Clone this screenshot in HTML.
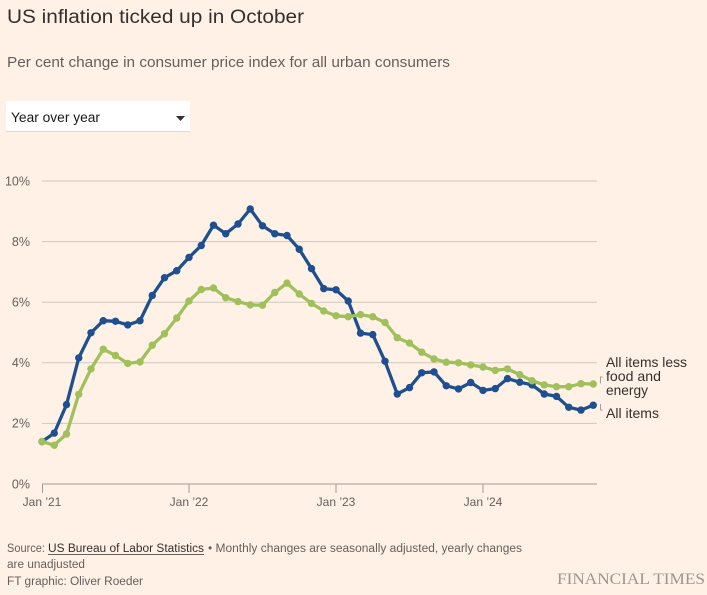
<!DOCTYPE html>
<html>
<head>
<meta charset="utf-8">
<style>
  html,body{margin:0;padding:0;background:#fff1e5;}
  svg{display:block;}
  text{font-family:"Liberation Sans",sans-serif;}
</style>
</head>
<body>
<svg width="707" height="595" viewBox="0 0 707 595" xmlns="http://www.w3.org/2000/svg">
  <defs>
    <marker id="mb" markerUnits="userSpaceOnUse" viewBox="-5 -5 10 10" markerWidth="10" markerHeight="10" refX="0" refY="0">
      <circle r="3.7" fill="#1e4f8f"/>
    </marker>
    <marker id="mg" markerUnits="userSpaceOnUse" viewBox="-5 -5 10 10" markerWidth="10" markerHeight="10" refX="0" refY="0">
      <circle r="3.7" fill="#9fc05a"/>
    </marker>
  </defs>
  <rect width="707" height="595" fill="#fff1e5"/>

  <!-- Title & subtitle -->
  <text x="7" y="23" font-size="19" fill="#33302e" textLength="297" lengthAdjust="spacingAndGlyphs">US inflation ticked up in October</text>
  <text x="7" y="67" font-size="15" fill="#66605c" textLength="443" lengthAdjust="spacingAndGlyphs">Per cent change in consumer price index for all urban consumers</text>

  <!-- Dropdown -->
  <rect x="6" y="101" width="184" height="31" fill="#ffffff"/>
  <line x1="6" y1="131.5" x2="190" y2="131.5" stroke="#e0d8d0" stroke-width="1"/>
  <text x="11" y="122" font-size="13.5" fill="#1a1817" textLength="89" lengthAdjust="spacingAndGlyphs">Year over year</text>
  <polygon points="176,116 185,116 180.5,121" fill="#33302e"/>

  <!-- Gridlines -->
  <g stroke="#d2c7bd" stroke-width="1">
    <line x1="42" y1="181" x2="597" y2="181"/>
    <line x1="42" y1="241.6" x2="597" y2="241.6"/>
    <line x1="42" y1="302.2" x2="597" y2="302.2"/>
    <line x1="42" y1="362.8" x2="597" y2="362.8"/>
    <line x1="42" y1="423.4" x2="597" y2="423.4"/>
  </g>
  <!-- Axis -->
  <g stroke="#a39b94" stroke-width="1">
    <line x1="42" y1="484" x2="597" y2="484"/>
    <line x1="42.5" y1="484" x2="42.5" y2="493"/>
    <line x1="189" y1="484" x2="189" y2="493"/>
    <line x1="336" y1="484" x2="336" y2="493"/>
    <line x1="483" y1="484" x2="483" y2="493"/>
  </g>

  <!-- Y labels -->
  <g font-size="12.5" fill="#66605c" text-anchor="end">
    <text x="30" y="185.5">10%</text>
    <text x="30" y="246">8%</text>
    <text x="30" y="306.5">6%</text>
    <text x="30" y="367">4%</text>
    <text x="30" y="427.5">2%</text>
    <text x="30" y="488.5">0%</text>
  </g>
  <!-- X labels -->
  <g font-size="12" fill="#66605c" text-anchor="middle">
    <text x="42" y="506">Jan ’21</text>
    <text x="189" y="506">Jan ’22</text>
    <text x="336" y="506">Jan ’23</text>
    <text x="483" y="506">Jan ’24</text>
  </g>

  <!-- All items (blue) -->
  <polyline fill="none" stroke="#1e4f8f" stroke-width="3.3" stroke-linejoin="round" stroke-linecap="round"
    marker-start="url(#mb)" marker-mid="url(#mb)" marker-end="url(#mb)"
    points="42,441.6 54.25,433.1 66.5,404.6 78.75,357.9 91,332.8 103.25,320.7 115.5,321.3 127.75,324.9 140,320.7 152.25,295.5 164.5,277.7 176.75,270.7 189,257.4 201.25,245.5 213.5,225.2 225.75,233.7 238,224.0 250.25,209.0 262.5,225.8 274.75,233.7 287,235.5 299.25,249.2 311.5,268.6 323.75,288.6 336,289.8 348.25,301.0 360.5,333.1 372.75,334.6 385,361.3 397.25,394.0 409.5,387.6 421.75,372.8 434,371.9 446.25,385.8 458.5,388.9 470.75,382.5 483,390.4 495.25,388.6 507.5,378.6 519.75,382.2 532,384.9 544.25,394.0 556.5,396.4 568.75,407.3 581,410.1 593.25,405.2"/>

  <!-- Core (green) -->
  <polyline fill="none" stroke="#9fc05a" stroke-width="3.3" stroke-linejoin="round" stroke-linecap="round"
    marker-start="url(#mg)" marker-mid="url(#mg)" marker-end="url(#mg)"
    points="42,441.6 54.25,445.2 66.5,434.0 78.75,394.3 91,368.9 103.25,349.2 115.5,355.5 127.75,363.4 140,361.9 152.25,345.2 164.5,333.7 176.75,318.0 189,301.0 201.25,289.5 213.5,288.0 225.75,297.7 238,301.6 250.25,304.9 262.5,305.2 274.75,292.5 287,283.1 299.25,294.0 311.5,303.4 323.75,311.0 336,315.8 348.25,316.7 360.5,314.6 372.75,316.7 385,322.5 397.25,337.7 409.5,343.1 421.75,352.2 434,358.9 446.25,362.2 458.5,362.8 470.75,364.9 483,367.0 495.25,370.4 507.5,368.9 519.75,374.6 532,380.7 544.25,384.9 556.5,386.7 568.75,386.7 581,383.7 593.25,384.0"/>

  <!-- Leaders -->
  <g stroke="#a8a09a" stroke-width="1" fill="none">
    <path d="M602.5,377 L600.5,377 L600.5,383.5"/>
    <path d="M600.5,404 L600.5,410 L602.5,410"/>
  </g>

  <!-- Series labels -->
  <g font-size="14" fill="#33302e">
    <text x="606" y="367" textLength="81" lengthAdjust="spacingAndGlyphs">All items less</text>
    <text x="606" y="381" textLength="55" lengthAdjust="spacingAndGlyphs">food and</text>
    <text x="606" y="395" textLength="42" lengthAdjust="spacingAndGlyphs">energy</text>
    <text x="606" y="418" textLength="53" lengthAdjust="spacingAndGlyphs">All items</text>
  </g>

  <!-- Footer -->
  <g font-size="11.5" fill="#66605c">
    <text x="7" y="552" textLength="38" lengthAdjust="spacingAndGlyphs">Source:</text>
    <text x="48" y="552" fill="#33302e" textLength="156" lengthAdjust="spacingAndGlyphs">US Bureau of Labor Statistics</text>
    <text x="208" y="552" textLength="314" lengthAdjust="spacingAndGlyphs">• Monthly changes are seasonally adjusted, yearly changes</text>
    <text x="7" y="568" textLength="78" lengthAdjust="spacingAndGlyphs">are unadjusted</text>
    <text x="7" y="585" textLength="136" lengthAdjust="spacingAndGlyphs">FT graphic: Oliver Roeder</text>
  </g>
  <line x1="48" y1="554.5" x2="204" y2="554.5" stroke="#33302e" stroke-width="0.8"/>

  <text x="557" y="584" font-size="16" fill="#9d958f" textLength="148" lengthAdjust="spacingAndGlyphs" style="font-family:'Liberation Serif',serif">FINANCIAL TIMES</text>
</svg>
</body>
</html>
